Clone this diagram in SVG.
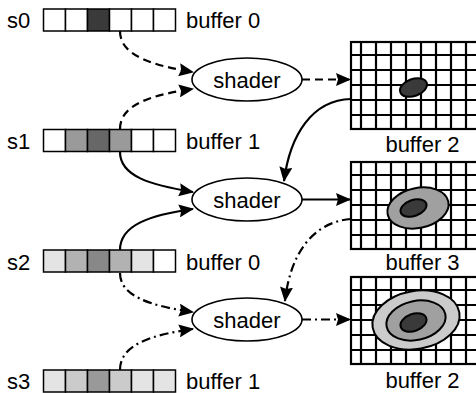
<svg xmlns="http://www.w3.org/2000/svg" width="476" height="393" viewBox="0 0 476 393">
  <style>
    text { font-family: "Liberation Sans", Arial, sans-serif; font-size: 22px; fill: #000; }
    .cell { stroke: #000; stroke-width: 1.5; }
    .shader { fill: #fff; stroke: #000; stroke-width: 1.6; }
    .edge { fill: none; stroke: #000; stroke-width: 2.2; }
    .dash { stroke-dasharray: 8 5; }
    .dashdot { stroke-dasharray: 9 4 2 4; }
    .blob { stroke: #000; stroke-width: 2; }
  </style>
  <defs>
    <marker id="arrow" viewBox="0 0 15 13" refX="14" refY="6.5" markerWidth="15" markerHeight="13" markerUnits="userSpaceOnUse" orient="auto">
      <path d="M0,0 L15,6.5 L0,13 L2,6.5 z" fill="#000"/>
    </marker>
    <!-- image buffer: bordered pixel grid, clipped by the right edge -->
    <g id="grid">
      <rect x="0" y="0" width="140" height="87" fill="#fff" stroke="#000" stroke-width="2.2"/>
      <path d="M10,0V87M25,0V87M40,0V87M55,0V87M70,0V87M85,0V87M100,0V87M115,0V87M130,0V87M0,13H140M0,28H140M0,43H140M0,58H140M0,73H140" stroke="#000" stroke-width="2.2" fill="none"/>
    </g>
  </defs>

  <!-- sample strips -->
  <g id="s0">
    <text x="7" y="28">s0</text>
    <rect class="cell" x="43.5" y="9" width="22" height="22" fill="#fff"/>
    <rect class="cell" x="65.5" y="9" width="22" height="22" fill="#fff"/>
    <rect class="cell" x="87.5" y="9" width="22" height="22" fill="#3a3a3a"/>
    <rect class="cell" x="109.5" y="9" width="22" height="22" fill="#fff"/>
    <rect class="cell" x="131.5" y="9" width="22" height="22" fill="#fff"/>
    <rect class="cell" x="153.5" y="9" width="22" height="22" fill="#fff"/>
    <text x="186" y="28">buffer 0</text>
  </g>
  <g id="s1">
    <text x="7" y="149">s1</text>
    <rect class="cell" x="43.5" y="129.5" width="22" height="22" fill="#fff"/>
    <rect class="cell" x="65.5" y="129.5" width="22" height="22" fill="#9a9a9a"/>
    <rect class="cell" x="87.5" y="129.5" width="22" height="22" fill="#676767"/>
    <rect class="cell" x="109.5" y="129.5" width="22" height="22" fill="#9a9a9a"/>
    <rect class="cell" x="131.5" y="129.5" width="22" height="22" fill="#fff"/>
    <rect class="cell" x="153.5" y="129.5" width="22" height="22" fill="#fff"/>
    <text x="186" y="149">buffer 1</text>
  </g>
  <g id="s2">
    <text x="7" y="270">s2</text>
    <rect class="cell" x="43.5" y="250" width="22" height="22" fill="#e4e4e4"/>
    <rect class="cell" x="65.5" y="250" width="22" height="22" fill="#b2b2b2"/>
    <rect class="cell" x="87.5" y="250" width="22" height="22" fill="#888"/>
    <rect class="cell" x="109.5" y="250" width="22" height="22" fill="#b2b2b2"/>
    <rect class="cell" x="131.5" y="250" width="22" height="22" fill="#e4e4e4"/>
    <rect class="cell" x="153.5" y="250" width="22" height="22" fill="#fff"/>
    <text x="186" y="270">buffer 0</text>
  </g>
  <g id="s3">
    <text x="7" y="389">s3</text>
    <rect class="cell" x="43.5" y="370" width="22" height="22" fill="#e4e4e4"/>
    <rect class="cell" x="65.5" y="370" width="22" height="22" fill="#cbcbcb"/>
    <rect class="cell" x="87.5" y="370" width="22" height="22" fill="#999"/>
    <rect class="cell" x="109.5" y="370" width="22" height="22" fill="#cbcbcb"/>
    <rect class="cell" x="131.5" y="370" width="22" height="22" fill="#e4e4e4"/>
    <rect class="cell" x="153.5" y="370" width="22" height="22" fill="#e4e4e4"/>
    <text x="186" y="389">buffer 1</text>
  </g>

  <!-- shader passes -->
  <g id="shader1">
    <ellipse class="shader" cx="247" cy="79.5" rx="55" ry="21.5"/>
    <text x="247" y="87.5" text-anchor="middle">shader</text>
  </g>
  <g id="shader2">
    <ellipse class="shader" cx="247" cy="199.5" rx="55" ry="21.5"/>
    <text x="247" y="207.5" text-anchor="middle">shader</text>
  </g>
  <g id="shader3">
    <ellipse class="shader" cx="247" cy="319.5" rx="55" ry="21.5"/>
    <text x="247" y="327.5" text-anchor="middle">shader</text>
  </g>

  <!-- output buffers -->
  <g id="out1">
    <use href="#grid" x="351" y="42"/>
    <ellipse class="blob" cx="413.5" cy="87.5" rx="14" ry="8.5" transform="rotate(-20 413.5 87.5)" fill="#3a3a3a"/>
    <text x="422.5" y="152" text-anchor="middle">buffer 2</text>
  </g>
  <g id="out2">
    <use href="#grid" x="351" y="162"/>
    <ellipse class="blob" cx="418" cy="208" rx="31" ry="20" transform="rotate(-12 418 208)" fill="#a0a0a0"/>
    <ellipse class="blob" cx="413.5" cy="208" rx="13.5" ry="8" transform="rotate(-20 413.5 208)" fill="#3a3a3a"/>
    <text x="422.5" y="270" text-anchor="middle">buffer 3</text>
  </g>
  <g id="out3">
    <use href="#grid" x="351" y="277"/>
    <ellipse class="blob" cx="416" cy="320" rx="44" ry="29" transform="rotate(-10 416 320)" fill="#cbcbcb"/>
    <ellipse class="blob" cx="416" cy="320.5" rx="30" ry="19.5" transform="rotate(-12 416 320.5)" fill="#a0a0a0"/>
    <ellipse class="blob" cx="413.5" cy="322.5" rx="13.5" ry="8.5" transform="rotate(-20 413.5 322.5)" fill="#3a3a3a"/>
    <text x="422.5" y="388" text-anchor="middle">buffer 2</text>
  </g>

  <!-- connectors -->
  <g id="connectors">
    <path class="edge dash" d="M120,31 C120,55 150,65 193,72" marker-end="url(#arrow)"/>
    <path class="edge dash" d="M120,129 C120,105 150,95 193,89" marker-end="url(#arrow)"/>
    <path class="edge dash" d="M302,79.5 L350,79.5" marker-end="url(#arrow)"/>
    <path class="edge" d="M351,99 C312,100 290,135 284,181" marker-end="url(#arrow)"/>
    <path class="edge" d="M120,152 C120,176 150,185 193,192" marker-end="url(#arrow)"/>
    <path class="edge" d="M120,250 C120,225 150,215 193,209" marker-end="url(#arrow)"/>
    <path class="edge" d="M302,199.5 L350,199.5" marker-end="url(#arrow)"/>
    <path class="edge dashdot" d="M351,219 C312,222 290,255 285,301" marker-end="url(#arrow)"/>
    <path class="edge dashdot" d="M120,273 C120,296 150,306 193,312" marker-end="url(#arrow)"/>
    <path class="edge dashdot" d="M120,370 C120,345 150,335 193,329" marker-end="url(#arrow)"/>
    <path class="edge dashdot" d="M302,319.5 L350,319.5" marker-end="url(#arrow)"/>
  </g>
</svg>
